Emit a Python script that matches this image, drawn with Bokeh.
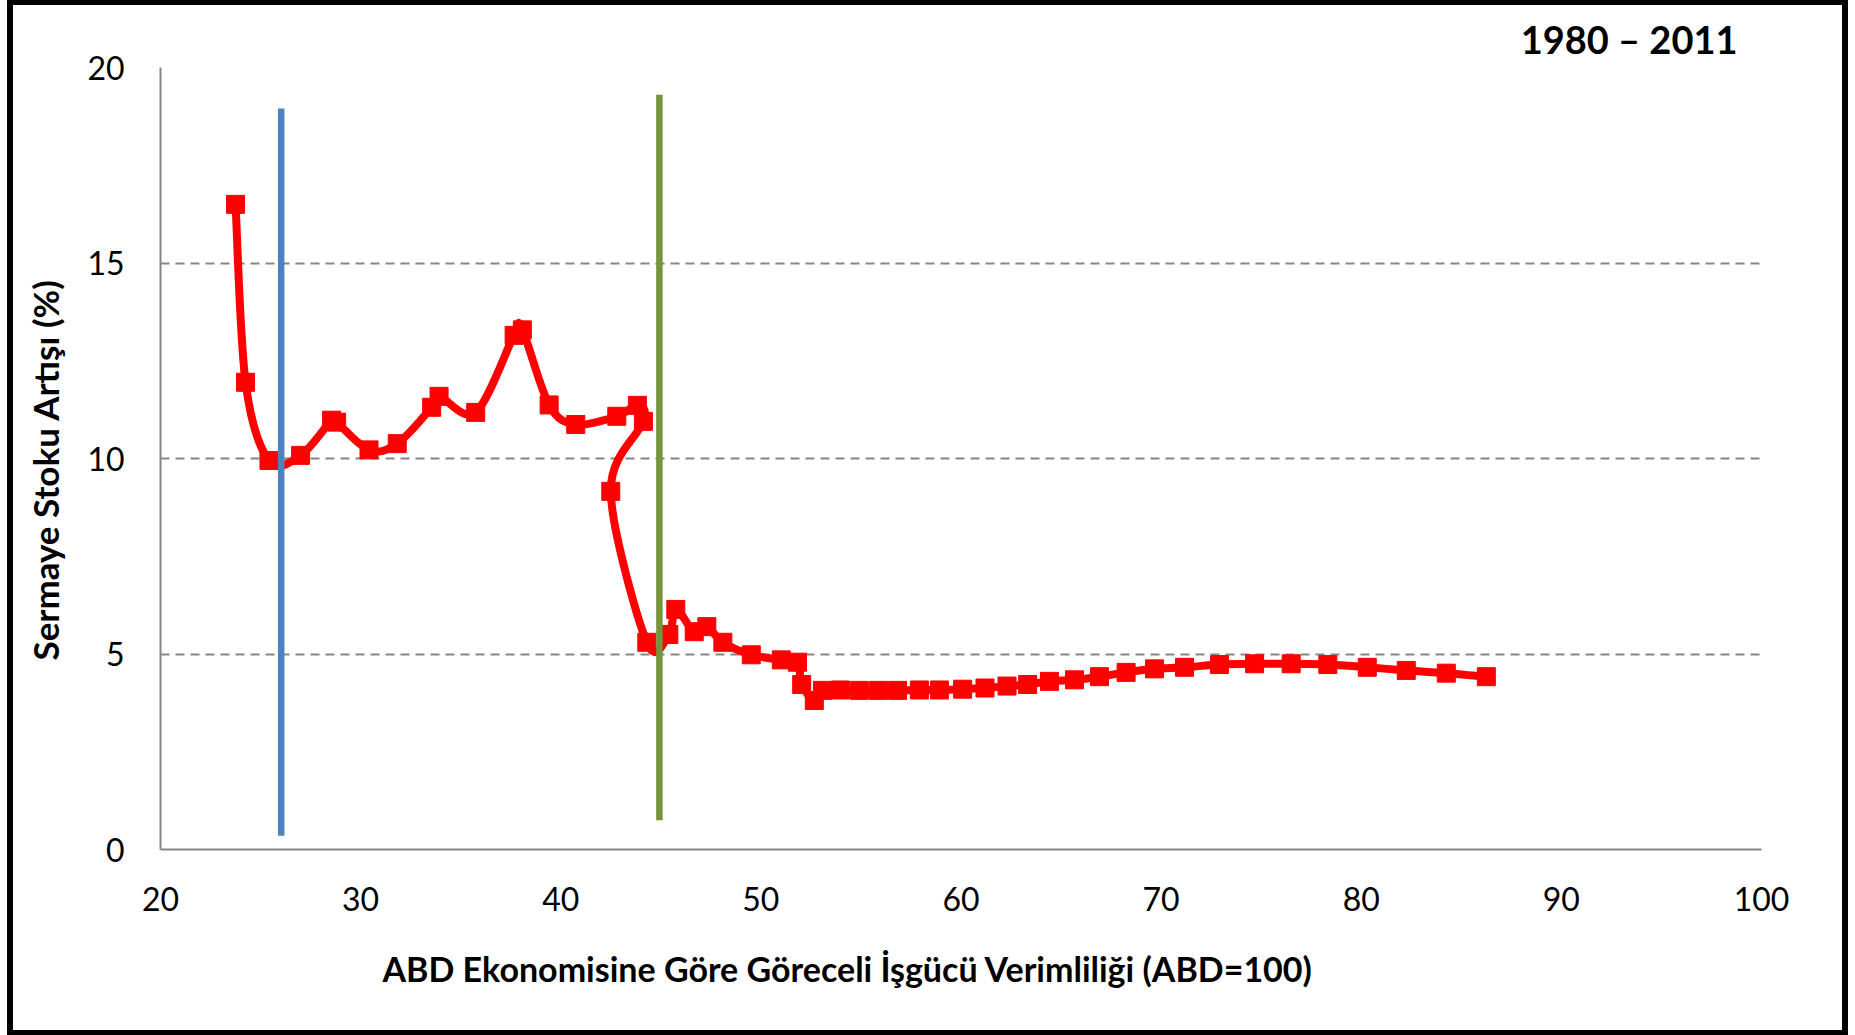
import numpy as np
from bokeh.plotting import figure
from bokeh.models import Range1d, FixedTicker, Title, ColumnDataSource
from bokeh.embed import file_html
from bokeh.resources import INLINE

# ---- data ----
productivity = [23.75, 24.25, 25.42, 27.00, 28.55, 28.80, 30.42, 31.83, 33.55, 33.92,
                35.75, 37.67, 38.08, 39.42, 40.75, 42.80, 43.83, 44.13, 42.50, 44.30,
                45.40, 45.75, 46.67, 47.30, 48.10, 49.52, 51.02, 51.83, 52.04, 52.67,
                53.08, 53.97, 54.92, 55.88, 56.83, 57.92, 58.92, 60.08, 61.20, 62.30,
                63.33, 64.42, 65.67, 66.92, 68.25, 69.67, 71.17, 72.92, 74.67, 76.50,
                78.33, 80.30, 82.25, 84.25, 86.25]
capital_growth = [16.50, 11.95, 9.95, 10.08, 10.98, 10.93, 10.22, 10.38, 11.31, 11.59,
                  11.18, 13.15, 13.29, 11.37, 10.87, 11.08, 11.36, 10.95, 9.16, 5.30,
                  5.50, 6.14, 5.57, 5.70, 5.30, 4.98, 4.85, 4.79, 4.22, 3.81,
                  4.07, 4.08, 4.07, 4.07, 4.07, 4.08, 4.08, 4.10, 4.13, 4.18,
                  4.22, 4.30, 4.34, 4.42, 4.53, 4.62, 4.66, 4.73, 4.75, 4.75,
                  4.73, 4.66, 4.58, 4.51, 4.42]
blue_x = [26.03, 26.03]
blue_y = [0.35, 18.95]
green_x = [44.93, 44.93]
green_y = [0.75, 19.30]
x_ticks = [20, 30, 40, 50, 60, 70, 80, 90, 100]
y_ticks = [0, 5, 10, 15, 20]
grid_ticks = [5, 10, 15, 20]
title_text = "1980 – 2011"
x_label = "ABD Ekonomisine Göre Göreceli İşgücü Verimliliği (ABD=100)"
y_label = "Sermaye Stoku Artışı (%)"

FONT = "Lato"
W, H = 1855, 1035

frame_css = (
    "linear-gradient(#000,#000) 7px 0px / 6px 1035px no-repeat, "
    "linear-gradient(#000,#000) 1842px 0px / 6px 1035px no-repeat, "
    "linear-gradient(#000,#000) 7px 0px / 1841px 5px no-repeat, "
    "linear-gradient(#000,#000) 7px 1030px / 1841px 5px no-repeat, "
    "#ffffff"
)

p = figure(width=W, height=H, output_backend="svg", toolbar_location=None,
           x_range=Range1d(20, 100), y_range=Range1d(0, 20),
           min_border_left=160, min_border_right=94, min_border_top=67, min_border_bottom=186)
p.styles = {"background": frame_css}
p.background_fill_color = "white"
p.border_fill_color = None
p.outline_line_color = None

p.title = Title(text=title_text, align="right", offset=24, standoff=11,
                text_font=FONT, text_font_style="bold", text_font_size="38px",
                text_color="black")

for ax in (p.xaxis[0], p.yaxis[0]):
    ax.major_tick_in = 0
    ax.major_tick_out = 0
    ax.minor_tick_in = 0
    ax.minor_tick_out = 0
    ax.axis_line_color = "#868686"
    ax.axis_line_width = 2
    ax.major_label_text_font = FONT
    ax.major_label_text_font_size = "32px"
    ax.major_label_text_color = "black"

p.xaxis.ticker = FixedTicker(ticks=x_ticks)
p.yaxis.ticker = FixedTicker(ticks=y_ticks)
p.xaxis.major_label_standoff = 37
p.yaxis.major_label_standoff = 36

p.add_layout(Title(text=y_label, align="left", offset=189, standoff=38,
                   text_font=FONT, text_font_style="bold", text_font_size="35px",
                   text_color="black"), "left")

p.add_layout(Title(text=x_label, align="left", offset=222, standoff=64,
                   text_font=FONT, text_font_style="bold", text_font_size="34px",
                   text_color="black"), "below")

p.xgrid.visible = False
p.ygrid.ticker = FixedTicker(ticks=grid_ticks)
p.ygrid.grid_line_color = "#868686"
p.ygrid.grid_line_width = 2
p.ygrid.grid_line_dash = "9 6"

# smoothed line (Excel style) via bezier segments
px = np.array(productivity)
py = np.array(capital_growth)
n = len(px)
i0 = np.maximum(np.arange(n - 1) - 1, 0)
i1 = np.arange(n - 1)
i2 = i1 + 1
i3 = np.minimum(i1 + 2, n - 1)
src = ColumnDataSource(dict(
    x0=px[i1], y0=py[i1], x1=px[i2], y1=py[i2],
    cx0=px[i1] + (px[i2] - px[i0]) / 6.0, cy0=py[i1] + (py[i2] - py[i0]) / 6.0,
    cx1=px[i2] - (px[i3] - px[i1]) / 6.0, cy1=py[i2] - (py[i3] - py[i1]) / 6.0,
))
p.bezier(x0="x0", y0="y0", x1="x1", y1="y1", cx0="cx0", cy0="cy0", cx1="cx1", cy1="cy1",
         source=src, line_color="#FF0000", line_width=8, line_cap="round")
p.scatter(productivity, capital_growth, marker="square", size=18,
          fill_color="#FF0000", line_color="#FF0000")

p.line(blue_x, blue_y, line_color="#4F81BD", line_width=6.5, line_cap="butt")
p.line(green_x, green_y, line_color="#77933C", line_width=6.5, line_cap="butt")

open("out.html", "w").write(file_html(p, INLINE))
